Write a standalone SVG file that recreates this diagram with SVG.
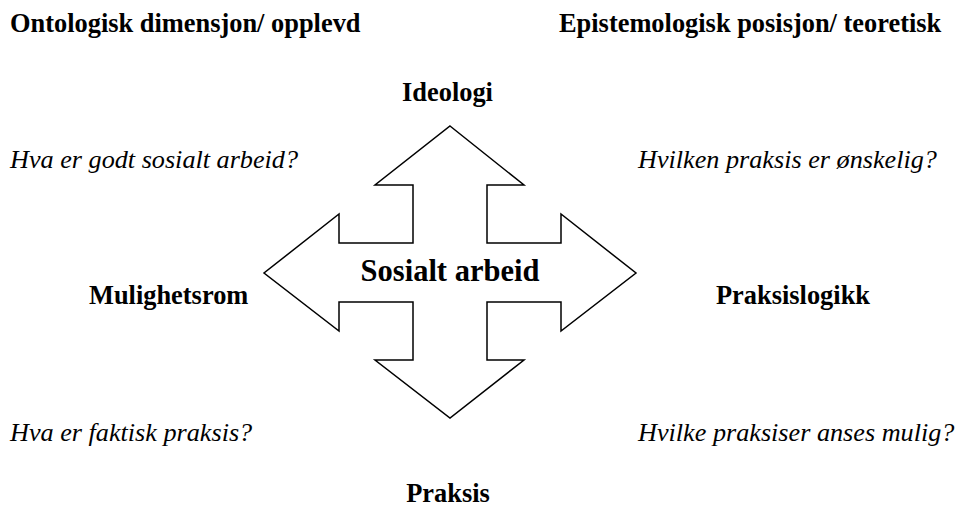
<svg xmlns="http://www.w3.org/2000/svg" width="960" height="511" viewBox="0 0 960 511">
<style>
  text { font-family: "Liberation Serif", "Times New Roman", serif; fill: #000; }
  .b { font-weight: bold; font-size: 26.4px; }
  .i { font-style: italic; font-size: 26.2px; }
  .c { font-weight: bold; font-size: 30.5px; }
  .shape { fill: #fff; stroke: #000; stroke-width: 1.5; stroke-linejoin: miter; }
</style>
<rect width="960" height="511" fill="#fff"/>
<g id="headers">
  <text class="b" x="10" y="32">Ontologisk dimensjon/ opplevd</text>
  <text class="b" x="559" y="32">Epistemologisk posisjon/ teoretisk</text>
</g>
<g id="connectors">
  <path class="shape" d="M450,126 L524,185 L487,185 L487,243 L561,243 L561,214 L636,273 L561,331 L561,302 L487,302 L487,360 L524,360 L450,418 L375,360 L413,360 L413,302 L339,302 L339,331 L264,273 L339,214 L339,243 L413,243 L413,185 L375,185 Z"/>
</g>
<g id="center">
  <text class="c" x="450" y="281" text-anchor="middle">Sosialt arbeid</text>
</g>
<g id="ideologi">
  <text class="b" x="447.5" y="101" text-anchor="middle">Ideologi</text>
</g>
<g id="praksis">
  <text class="b" x="448" y="502" text-anchor="middle">Praksis</text>
</g>
<g id="mulighetsrom">
  <text class="b" x="89" y="304">Mulighetsrom</text>
</g>
<g id="praksislogikk">
  <text class="b" x="716" y="304">Praksislogikk</text>
</g>
<g id="q-top-left">
  <text class="i" x="10" y="168">Hva er godt sosialt arbeid?</text>
</g>
<g id="q-top-right">
  <text class="i" x="638" y="168">Hvilken praksis er ønskelig?</text>
</g>
<g id="q-bottom-left">
  <text class="i" x="10" y="441">Hva er faktisk praksis?</text>
</g>
<g id="q-bottom-right">
  <text class="i" x="638" y="441">Hvilke praksiser anses mulig?</text>
</g>
</svg>
